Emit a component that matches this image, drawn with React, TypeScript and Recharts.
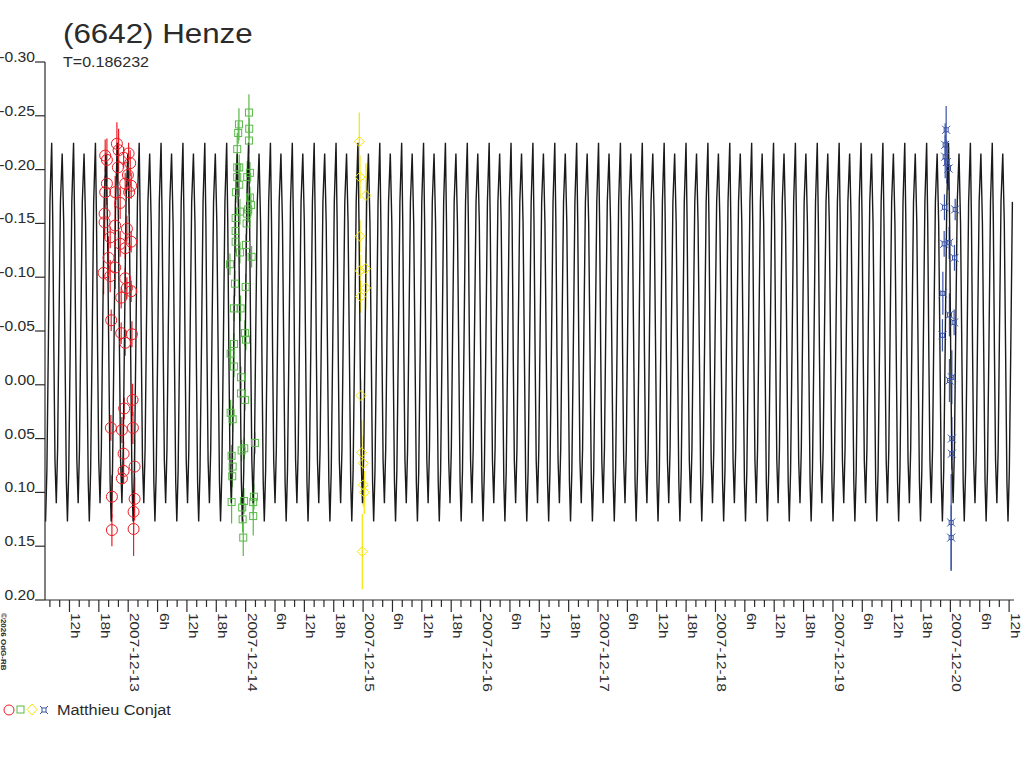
import React from "react"
import { ComposedChart, Line, Scatter, ErrorBar, XAxis, YAxis } from "recharts"

// hours are counted from 2007-12-13 0h UT
const PERIOD_DAYS = 0.186232
const MAX_EPOCH_H = 55.88

// one rotation of the model curve
const MODEL_PHASE = [0, 0.05, 0.1, 0.15, 0.21, 0.27, 0.33, 0.4, 0.48, 0.55, 0.61, 0.67, 0.72, 0.78, 0.85, 0.92]
const MODEL_MAG = [-0.225, -0.15, -0.03, 0.07, 0.11, 0.06, -0.05, -0.17, -0.215, -0.15, -0.03, 0.09, 0.127, 0.08, -0.04, -0.17]

const RED_H = [-2.31, 0.08, -4.7, -4.35, -1.96, -0.94, -2.11, 0.41, -0.06, -0.61, -4.35, 0.61, -4.7, -2.66, 0.2, -1.64, -4.82, -4.82, -2.66, -0.27, -3.68, -1.64, 0.61, -0.61, -4.01, -2.66, -5.03, -3.68, -0.61, -0.27, 0.61, -1.43, -3.47, -1.43, 0.76, -0.61, 0.9, -0.82, -3.54, -1.29, 0.96, -0.94, 1.31, -0.94, -1.29, -3.33, 1.31, 1.1, -3.33, 1.1]
const RED_MAG = [-0.224, -0.215, -0.213, -0.209, -0.218, -0.211, -0.202, -0.206, -0.195, -0.187, -0.187, -0.185, -0.179, -0.179, -0.179, -0.169, -0.159, -0.151, -0.148, -0.145, -0.137, -0.131, -0.133, -0.127, -0.118, -0.109, -0.104, -0.101, -0.099, -0.09, -0.087, -0.081, -0.06, -0.048, -0.047, -0.039, 0.014, 0.022, 0.04, 0.042, 0.04, 0.064, 0.076, 0.08, 0.087, 0.104, 0.106, 0.118, 0.135, 0.134]
const RED_ERR = [0.02, 0.01, 0.015, 0.02, 0.02, 0.01, 0.015, 0.012, 0.01, 0.01, 0.02, 0.012, 0.015, 0.015, 0.02, 0.015, 0.02, 0.015, 0.02, 0.012, 0.01, 0.012, 0.01, 0.01, 0.02, 0.02, 0.02, 0.015, 0.01, 0.01, 0.01, 0.01, 0.01, 0.01, 0.012, 0.012, 0.015, 0.01, 0.012, 0.012, 0.015, 0.012, 0.025, 0.012, 0.012, 0.02, 0.02, 0.02, 0.015, 0.025]

const GREEN_H = [24.67, 22.63, 22.48, 24.73, 24.67, 22.28, 22.28, 22.69, 24.88, 22.28, 24.32, 22.69, 22.01, 24.88, 25.08, 24.53, 22.83, 24.32, 21.95, 24.2, 21.95, 21.95, 24.06, 22.83, 25.22, 20.79, 21.81, 24.0, 21.61, 22.97, 23.85, 24.06, 21.61, 20.93, 21.61, 23.04, 23.04, 23.85, 20.93, 21.34, 23.18, 23.71, 25.9, 21.13, 21.34, 21.26, 21.13, 23.65, 23.3, 25.69, 25.55, 23.38, 25.55, 23.51]
const GREEN_MAG = [-0.253, -0.242, -0.234, -0.238, -0.227, -0.219, -0.202, -0.202, -0.197, -0.193, -0.193, -0.186, -0.179, -0.174, -0.167, -0.163, -0.161, -0.159, -0.155, -0.15, -0.143, -0.133, -0.13, -0.123, -0.119, -0.112, -0.094, -0.091, -0.071, -0.071, -0.048, -0.042, -0.038, -0.029, -0.017, -0.007, 0.008, 0.014, 0.026, 0.032, 0.061, 0.059, 0.054, 0.066, 0.076, 0.085, 0.109, 0.108, 0.114, 0.104, 0.109, 0.125, 0.122, 0.142]
const GREEN_ERR = [0.017, 0.015, 0.01, 0.01, 0.012, 0.015, 0.012, 0.012, 0.01, 0.012, 0.015, 0.012, 0.01, 0.01, 0.01, 0.012, 0.012, 0.012, 0.01, 0.01, 0.01, 0.01, 0.01, 0.01, 0.01, 0.01, 0.012, 0.012, 0.012, 0.012, 0.012, 0.01, 0.01, 0.01, 0.01, 0.01, 0.01, 0.01, 0.012, 0.012, 0.01, 0.01, 0.01, 0.01, 0.01, 0.01, 0.02, 0.012, 0.015, 0.012, 0.012, 0.012, 0.018, 0.017]

const YELLOW_H = [47.22, 47.36, 48.59, 47.36, 47.36, 48.52, 48.52, 47.5, 47.56, 47.71, 48.03, 48.03, 48.24, 47.83]
const YELLOW_MAG = [-0.226, -0.193, -0.176, -0.138, -0.106, -0.108, -0.09, -0.082, 0.01, 0.063, 0.073, 0.093, 0.1, 0.155]
const YELLOW_ERR = [0.027, 0.02, 0.03, 0.015, 0.015, 0.02, 0.02, 0.015, 0.015, 0.03, 0.025, 0.02, 0.02, 0.035]

const BLUE_H = [167.14, 166.94, 166.94, 167.28, 167.61, 166.79, 168.98, 166.73, 167.75, 168.84, 166.46, 167.81, 168.77, 166.38, 168.3, 167.81, 168.3, 168.3, 168.16, 168.16]
const BLUE_MAG = [-0.237, -0.223, -0.212, -0.207, -0.201, -0.165, -0.163, -0.131, -0.132, -0.118, -0.085, -0.065, -0.058, -0.046, -0.007, -0.004, 0.05, 0.064, 0.128, 0.142]
const BLUE_ERR = [0.022, 0.02, 0.02, 0.02, 0.02, 0.012, 0.01, 0.012, 0.015, 0.012, 0.02, 0.02, 0.012, 0.015, 0.025, 0.02, 0.02, 0.015, 0.045, 0.03]

const DAY_LABELS = ["2007-12-12", "2007-12-13", "2007-12-14", "2007-12-15", "2007-12-16", "2007-12-17", "2007-12-18", "2007-12-19", "2007-12-20"]
const HOUR_LABELS: Record<number, string> = { 6: "6h", 12: "12h", 18: "18h" }
const Y_TICKS = [-0.3, -0.25, -0.2, -0.15, -0.1, -0.05, 0, 0.05, 0.1, 0.15, 0.2]
const X_MIN = -17
const X_MAX = 181

const RED = "#ec1c24"
const GREEN = "#58b947"
const YELLOW = "#f4e600"
const BLUE = "#3a54a6"
const INK = "#2b2b2b"
const FONT = "'Liberation Sans', Arial, sans-serif"

const xTicks: number[] = []
for (let h = -16; h <= 180; h += 2) xTicks.push(h)

const periodH = PERIOD_DAYS * 24
const modelData: { h: number; mag: number }[] = []
const k0 = Math.floor((X_MIN - MAX_EPOCH_H) / periodH) - 1
const k1 = Math.ceil((X_MAX - MAX_EPOCH_H) / periodH) + 1
for (let k = k0; k <= k1; k++) {
  MODEL_PHASE.forEach((p, i) => {
    const h = MAX_EPOCH_H + (k + p) * periodH
    if (h >= X_MIN && h <= X_MAX) modelData.push({ h, mag: MODEL_MAG[i] })
  })
}

const toPoints = (hs: number[], mags: number[], errs: number[]) =>
  hs.map((h, i) => ({ h, mag: mags[i], err: errs[i] }))

const redData = toPoints(RED_H, RED_MAG, RED_ERR)
const greenData = toPoints(GREEN_H, GREEN_MAG, GREEN_ERR)
const yellowData = toPoints(YELLOW_H, YELLOW_MAG, YELLOW_ERR)
const blueData = toPoints(BLUE_H, BLUE_MAG, BLUE_ERR)

function xLabel(h: number) {
  const hod = ((h % 24) + 24) % 24
  if (hod === 0) return DAY_LABELS[h / 24 + 1]
  return HOUR_LABELS[hod] || ""
}

function XTick(props: any) {
  const { x, y, payload } = props
  const h = payload.value
  const big = (((h % 6) + 6) % 6) === 0
  const label = xLabel(h)
  return (
    <g>
      <line x1={x} x2={x} y1={y} y2={y + (big ? 12 : 7)} stroke={INK} strokeWidth={1.2} />
      {label && (
        <text
          transform={`translate(${x + 2},${y + 13}) rotate(90) scale(1.14,1)`}
          fontSize={13.5}
          fontFamily={FONT}
          fill={INK}
          textAnchor="start"
        >
          {label}
        </text>
      )}
    </g>
  )
}

function YTick(props: any) {
  const { x, y, payload } = props
  return (
    <g>
      <line x1={x - 10} x2={x} y1={y} y2={y} stroke={INK} strokeWidth={1.2} />
      <text
        transform={`translate(${x - 10},${y}) scale(1.08,1)`}
        fontSize={14.5}
        fontFamily={FONT}
        fill={INK}
        textAnchor="end"
      >
        {payload.value.toFixed(2)}
      </text>
    </g>
  )
}

const Circle = (p: any) => <circle cx={p.cx} cy={p.cy} r={5.5} fill="none" stroke={RED} strokeWidth={1} />
const Square = (p: any) => <rect x={p.cx - 3.5} y={p.cy - 3.5} width={7} height={7} fill="none" stroke={GREEN} strokeWidth={1} />
const Diamond = (p: any) => (
  <polygon
    points={`${p.cx},${p.cy - 5} ${p.cx + 5},${p.cy} ${p.cx},${p.cy + 5} ${p.cx - 5},${p.cy}`}
    fill="none"
    stroke={YELLOW}
    strokeWidth={1}
  />
)
const Currency = (p: any) => (
  <g stroke={BLUE} strokeWidth={1} fill="none">
    <rect x={p.cx - 2} y={p.cy - 2} width={4} height={4} />
    <line x1={p.cx - 4} y1={p.cy - 4} x2={p.cx - 2} y2={p.cy - 2} />
    <line x1={p.cx + 4} y1={p.cy - 4} x2={p.cx + 2} y2={p.cy - 2} />
    <line x1={p.cx - 4} y1={p.cy + 4} x2={p.cx - 2} y2={p.cy + 2} />
    <line x1={p.cx + 4} y1={p.cy + 4} x2={p.cx + 2} y2={p.cy + 2} />
  </g>
)

export default function App() {
  return (
    <div style={{ position: "absolute", left: 0, top: 0, width: 1024, height: 768, background: "#fff" }}>
      <ComposedChart width={1024} height={700} margin={{ top: 62, right: 10, left: 0, bottom: 0 }}>
        <XAxis
          dataKey="h"
          type="number"
          domain={[X_MIN, X_MAX]}
          ticks={xTicks}
          interval={0}
          allowDataOverflow
          height={100}
          tickSize={0}
          tickMargin={0}
          tickLine={false}
          axisLine={{ stroke: INK, strokeWidth: 1.2 }}
          tick={<XTick />}
        />
        <YAxis
          type="number"
          domain={[-0.3, 0.2]}
          reversed
          ticks={Y_TICKS}
          interval={0}
          allowDataOverflow
          width={45}
          tickSize={0}
          tickMargin={0}
          tickLine={false}
          axisLine={{ stroke: INK, strokeWidth: 1.2 }}
          tick={<YTick />}
        />
        <Scatter data={redData} dataKey="mag" shape={Circle} isAnimationActive={false}>
          <ErrorBar dataKey="err" direction="y" width={0} stroke={RED} strokeWidth={1.2} />
        </Scatter>
        <Scatter data={greenData} dataKey="mag" shape={Square} isAnimationActive={false}>
          <ErrorBar dataKey="err" direction="y" width={0} stroke={GREEN} strokeWidth={1.2} />
        </Scatter>
        <Scatter data={yellowData} dataKey="mag" shape={Diamond} isAnimationActive={false}>
          <ErrorBar dataKey="err" direction="y" width={0} stroke={YELLOW} strokeWidth={1.2} />
        </Scatter>
        <Scatter data={blueData} dataKey="mag" shape={Currency} isAnimationActive={false}>
          <ErrorBar dataKey="err" direction="y" width={0} stroke={BLUE} strokeWidth={1.2} />
        </Scatter>
        <Line
          data={modelData}
          dataKey="mag"
          type="linear"
          dot={false}
          stroke="#1a1a1a"
          strokeWidth={1.4}
          isAnimationActive={false}
        />
      </ComposedChart>
      <svg width={1024} height={768} style={{ position: "absolute", left: 0, top: 0, pointerEvents: "none" }}>
        <text transform="translate(63,43) scale(1.16,1)" fontSize={27} fontFamily={FONT} fill={INK}>
          (6642) Henze
        </text>
        <text transform="translate(63,67) scale(1.07,1)" fontSize={15} fontFamily={FONT} fill={INK}>
          T=0.186232
        </text>
        <text transform="translate(1,613) rotate(90)" fontSize={8} fontWeight="bold" fontFamily={FONT} fill={INK}>
          ©2026 OdG-RB
        </text>
        <circle cx={9} cy={710} r={5} fill="none" stroke={RED} strokeWidth={1} />
        <rect x={17} y={706} width={7} height={7} fill="none" stroke={GREEN} strokeWidth={1} />
        <polygon points="32,704 37,709.5 32,715 27,709.5" fill="none" stroke={YELLOW} strokeWidth={1} />
        <Currency cx={44} cy={710} />
        <text transform="translate(57,715) scale(1.05,1)" fontSize={15.5} fontFamily={FONT} fill={INK}>
          Matthieu Conjat
        </text>
      </svg>
    </div>
  )
}
